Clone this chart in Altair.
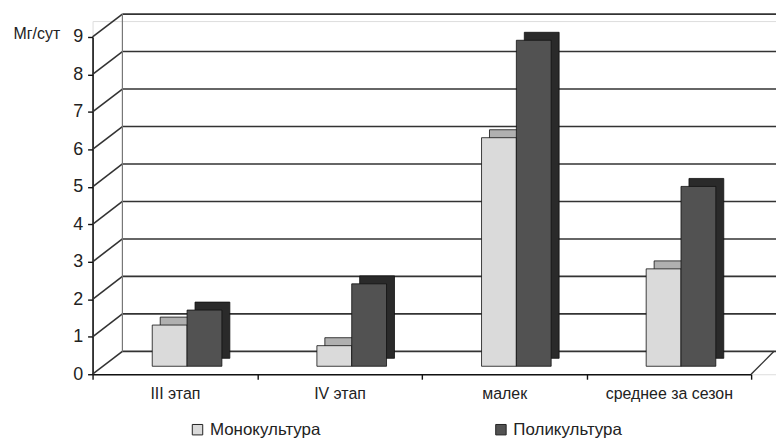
import altair as alt
import pandas as pd

categories = ["III этап", "IV этап", "малек", "среднее за сезон"]
mono = [1.1, 0.55, 6.1, 2.6]
poly = [1.5, 2.2, 8.7, 4.8]
series = ["Монокультура", "Поликультура"]
grid_values = [0, 1, 2, 3, 4, 5, 6, 7, 8, 9]

rows = []
for c, m, p in zip(categories, mono, poly):
    rows.append({"cat": c, "series": series[0], "value": m})
    rows.append({"cat": c, "series": series[1], "value": p})
df = pd.DataFrame(rows)
grid_df = pd.DataFrame({"v": grid_values})

W, H = 687, 355
DX, DY = 30, -23
FONT = "Liberation Sans"
XR = 662

yscale = alt.Scale(domain=[0, 9], range=[H, 16], nice=False, zero=True)


def xscale(shift):
    return alt.Scale(domain=categories, range=[shift, XR + shift], paddingInner=0, paddingOuter=0)


base_grid = alt.Chart(grid_df)

back_grid = base_grid.mark_rule(color="#333333", strokeWidth=1.6, yOffset=DY).encode(
    y=alt.Y("v:Q", scale=yscale, axis=None),
    x=alt.value(DX),
    x2=alt.value(W),
)
diagonals = base_grid.mark_rule(color="#333333", strokeWidth=1.6, y2Offset=DY).encode(
    y=alt.Y("v:Q", scale=yscale, axis=None),
    y2=alt.Y2("v:Q"),
    x=alt.value(0),
    x2=alt.value(DX),
)
back_left = alt.Chart(pd.DataFrame({"a": [0], "b": [9]})).mark_rule(
    color="#777777", strokeWidth=1.2, yOffset=DY, y2Offset=DY
).encode(
    y=alt.Y("a:Q", scale=yscale, axis=None),
    y2="b:Q",
    x=alt.value(DX),
)
floor_right = alt.Chart(pd.DataFrame({"a": [0]})).mark_rule(
    color="#333333", strokeWidth=1.4, y2Offset=DY
).encode(
    y=alt.Y("a:Q", scale=yscale, axis=None),
    y2="a:Q",
    x=alt.value(XR),
    x2=alt.value(W - 2),
)

xoff = alt.XOffset("series:N", scale=alt.Scale(domain=series, range=[48, 118], paddingOuter=0, paddingInner=0))

depth_bars = alt.Chart(df).mark_bar(
    stroke="#111111", strokeWidth=0.8, yOffset=-16, y2Offset=-16
).encode(
    x=alt.X("cat:N", scale=xscale(20), sort=categories, axis=None),
    xOffset=xoff,
    y=alt.Y("value:Q", scale=yscale, axis=None),
    y2=alt.datum(0),
    color=alt.Color("series:N", scale=alt.Scale(domain=series, range=["#b0b0b0", "#2a2a2a"]), legend=None),
)

front_bars = alt.Chart(df).mark_bar(
    stroke="#111111", strokeWidth=0.8, yOffset=-8, y2Offset=-8
).encode(
    x=alt.X("cat:N", scale=xscale(12), sort=categories, axis=None),
    xOffset=xoff,
    y=alt.Y("value:Q", scale=yscale, axis=None),
    y2=alt.datum(0),
    color=alt.Color(
        "series:N",
        scale=alt.Scale(domain=series, range=["#dadada", "#525252"]),
        title=None,
        legend=alt.Legend(
            orient="none",
            direction="horizontal",
            legendX=97,
            legendY=402,
            symbolType="square",
            symbolSize=110,
            symbolStrokeColor="#222222",
            symbolStrokeWidth=1,
            labelFont=FONT,
            labelFontSize=17,
            labelColor="#222222",
            columnPadding=172,
            labelLimit=300,
        ),
    ),
)

axes_layer = alt.Chart(df).mark_bar(opacity=0).encode(
    x=alt.X(
        "cat:N",
        scale=xscale(0),
        sort=categories,
        title=None,
        axis=alt.Axis(
            labelAngle=0,
            labelFont=FONT,
            labelFontSize=16,
            labelColor="#222222",
            labelPadding=6,
            domainColor="#111111",
            domainWidth=1.6,
            tickColor="#111111",
            tickWidth=1.4,
            tickSize=5,
            tickBand="extent",
            ticks=True,
        ),
    ),
    y=alt.Y(
        "value:Q",
        scale=yscale,
        title="Мг/сут",
        axis=alt.Axis(
            values=grid_values,
            grid=False,
            labelFont=FONT,
            labelFontSize=18,
            labelColor="#222222",
            labelPadding=5,
            domainColor="#111111",
            domainWidth=1.6,
            tickColor="#111111",
            tickWidth=1.4,
            tickSize=5,
            titleAngle=0,
            titleFont=FONT,
            titleFontSize=16,
            titleFontWeight="normal",
            titleColor="#222222",
            titleAlign="right",
            titleBaseline="middle",
            titleX=-33,
            titleY=13,
        ),
    ),
)

chart = alt.layer(
    back_grid, diagonals, back_left, floor_right, depth_bars, front_bars, axes_layer
).resolve_scale(
    x="independent", y="independent", color="independent"
).properties(
    width=W,
    height=H,
    autosize=alt.AutoSizeParams(type="none"),
    padding={"left": 85, "top": 12, "right": 0, "bottom": 70},
).configure_view(stroke=None).configure(background="white")

chart.save("out.html", embed_options={"renderer": "svg", "actions": False})
